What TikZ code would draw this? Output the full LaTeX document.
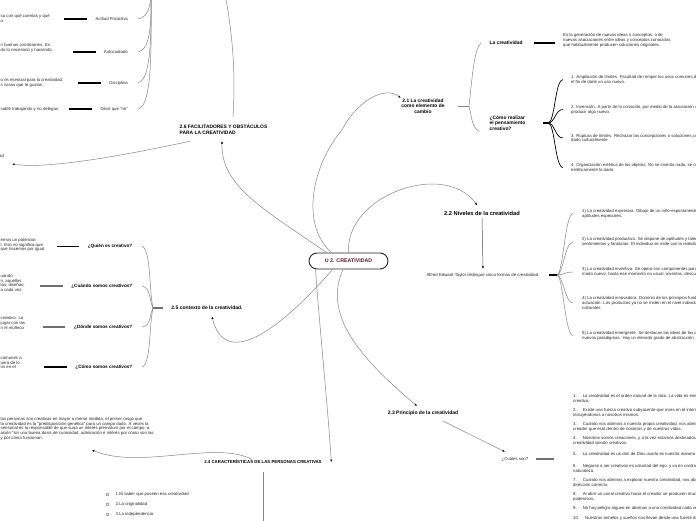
\documentclass[tikz,border=0pt]{standalone}
\usepackage{fontspec}
\setmainfont{Liberation Sans}
\usetikzlibrary{arrows.meta,positioning}

\definecolor{linkgray}{HTML}{858585}
\definecolor{stubgray}{HTML}{707070}
\definecolor{rootred}{HTML}{5E1A29}

\def\MapTitle{U 2. CREATIVIDAD}
\def\NoteFont{\fontsize{4.3}{4.8}\selectfont}
\def\TopicFont{\fontsize{4.9}{5.6}\selectfont\bfseries}

\tikzset{
  root/.style={draw=black!85, line width=0.9pt, rounded corners=8pt, fill=white,
    minimum width=79pt, minimum height=16pt, inner sep=0pt, text=rootred,
    font=\fontsize{5.3}{6}\selectfont\bfseries},
  topic/.style={inner sep=0.5pt, align=center, font=\TopicFont},
  subtopic/.style={inner sep=0.5pt, align=left, font=\TopicFont},
  note/.style={inner sep=0pt, align=left, anchor=west, text=black!85, font=\NoteFont},
  link/.style={draw=linkgray, line width=0.5pt},
  linkarrow/.style={link, -{Latex[length=2.4pt,width=2.2pt,color=black]}},
  fanline/.style={draw=black, line width=0.7pt},
  stubblack/.style={draw=black, line width=1.1pt},
  stubgray/.style={draw=stubgray, line width=1.5pt},
}

\begin{document}
\begin{tikzpicture}[x=1pt,y=-1pt]

% Page
\useasboundingbox (0,0) rectangle (696,520);
\fill[white] (0,0) rectangle (696,520);
\clip (0,0) rectangle (696,520);

% =====================================================
% CENTRAL TOPIC
% =====================================================
\node[root] (root) at (348.5,261) {\MapTitle};

% =====================================================
% 2.1 LA CREATIVIDAD COMO ELEMENTO DE CAMBIO
% =====================================================
\node[topic] (n21) at (423,106) {2.1 La creatividad\\como elemento de\\cambio};
\node[subtopic, anchor=west] (lacre) at (489,43) {La creatividad};
\node[note] (defcre) at (563,40.5) {Es la generación de nuevas ideas o conceptos, o de\\nuevas asociaciones entre ideas y conceptos conocidos,\\que habitualmente producen soluciones originales.};
\node[subtopic, anchor=west] (como) at (489,123) {¿Cómo realizar\\el pensamiento\\creativo?};

\foreach \i/\y/\txt in {
  1/79.5/{1. Ampliación de límites. Facultad de romper los usos comunes de las cosas con\\el fin de darle un uso nuevo.},
  2/109.5/{2. Invención. A partir de lo conocido, por medio de la asociación de ideas,\\producir algo nuevo.},
  3/138/{3. Ruptura de límites. Rechazar las concepciones o soluciones comunes y lo\\dado culturalmente},
  4/167.5/{4. Organización estética de los objetos. No se inventa nada, se organiza\\estéticamente lo dado.}} {
  \node[note] (paso\i) at (571,\y) {\txt};
}

\coordinate (b21) at (469,106);
\coordinate (fcomo) at (548,123);

\draw[linkarrow] ([xshift=-17pt]root.north) .. controls (300,225) and (312,165) .. (342,130)
  .. controls (354,105) and (383,84) .. (n21.north west);

% bracket
\draw[link] ([xshift=13pt]n21.east) -- (b21);
\draw[link] (b21) .. controls (472,80) and (474,48) .. ([xshift=-8pt]lacre.west);
\draw[link] (b21) .. controls (472,118) and (472,128) .. ([xshift=-10pt]como.south west);
\draw[stubblack, shorten <=11pt, shorten >=8pt] (lacre.east) -- (lacre.east -| defcre.west);

% fan of steps
\draw[stubblack, line width=1.4pt] ([xshift=17pt]como.east) -- (fcomo);
\foreach \i in {1,...,4} {
  \draw[fanline] (fcomo) .. controls +(7,0) and +(-8,0) .. ([xshift=-8pt]paso\i.west);
}

% =====================================================
% 2.2 NIVELES DE LA CREATIVIDAD
% =====================================================
\node[topic, font=\fontsize{5.7}{6.5}\selectfont\bfseries] (n22) at (482,213) {2.2 Niveles de la creatividad};
\node[note, anchor=center] (alfred) at (483,275) {Alfred Edward Taylor distingue cinco formas de creatividad.};

\foreach \i/\y/\txt in {
  1/213.5/{1) La creatividad expresiva. Dibujo de un niño-espontaneidad, no se requieren\\aptitudes especiales.},
  2/242/{2) La creatividad productiva. Se dispone de aptitudes y talentos para expresar\\sentimientos y fantasías. El individuo se mide con la realidad.},
  3/272/{3) La creatividad inventiva. Se opera con componentes para combinarlos de\\modo nuevo, hasta ese momento no usual -inventos, descubrimientos.},
  4/303/{4) La creatividad innovadora. Dominio de los principios fundamentales de\\actuación. Los productos ya no se miden en el nivel individual sino en el de los\\culturales.},
  5/335.5/{5) La creatividad emergente. Se destacan las ideas de las que surgen\\nuevos paradigmas. Hay un elevado grado de abstracción.}} {
  \node[note] (nivel\i) at (582,\y) {\txt};
}

\coordinate (falfred) at (557,275);

\draw[linkarrow] (root.north) .. controls (345,195) and (445,160) .. ([shift={(-5pt,5pt)}]n22.north);
\draw[linkarrow, draw=black!70] ([yshift=-2pt]n22.south) -- ([yshift=4pt]alfred.north);

\draw[stubblack, line width=1.3pt] ([xshift=9pt]alfred.east) -- (falfred);
\foreach \i in {1,...,5} {
  \draw[link] (falfred) .. controls +(6,0) and +(-8,0) .. ([xshift=-9pt]nivel\i.west);
}

% =====================================================
% 2.3 PRINCIPIO DE LA CREATIVIDAD
% =====================================================
\node[topic, font=\fontsize{5}{6}\selectfont\bfseries] (n23) at (423,413) {2.3 Principio de la creatividad};
\node[note, anchor=center] (cuales) at (515,459) {¿Cuáles son?};

\foreach \i/\y/\txt in {
  1/398.5/{1.\hspace{6pt}La creatividad es el orden natural de la vida. La vida es energía pura\\creativa.},
  2/412.5/{2.\hspace{6pt}Existe una fuerza creativa subyacente que mora en el interior de toda vida,\\incluyéndonos a nosotros mismos.},
  3/426.5/{3.\hspace{6pt}Cuando nos abrimos a nuestra propia creatividad, nos abrimos a la creatividad del\\creador que está dentro de nosotros y de nuestras vidas.},
  4/440.5/{4.\hspace{6pt}Nosotros somos creaciones, y a la vez estamos destinados a continuar la\\creatividad siendo creativos.},
  5/454/{5.\hspace{6pt}La creatividad es un don de Dios usarla es nuestra manera de devolverlo.},
  6/468.5/{6.\hspace{6pt}Negarse a ser creativos es voluntad del ego, y va en contra de nuestra verdadera\\naturaleza.},
  7/482.5/{7.\hspace{6pt}Cuando nos abrimos a explorar nuestra creatividad, nos abrimos a Dios: buena\\dirección correcta.},
  8/496.5/{8.\hspace{6pt}Al abrir un canal creativo hacia el creador se producen muchos cambios\\poderosos.},
  9/508/{9.\hspace{6pt}No hay peligro alguno en abrirnos a una creatividad cada vez mayor.},
  10/518.5/{10.\hspace{6pt}Nuestros anhelos y sueños nos llevan desde una fuente divina.}} {
  \node[note] (prin\i) at (573,\y) {\txt};
}

\draw[linkarrow] ([xshift=-5.5pt]root.south) .. controls (325,310) and (350,350) .. ([shift={(-6pt,4pt)}]n23.north);
\draw[linkarrow] ([shift={(20pt,-5pt)}]n23.south) -- ([shift={(-10pt,5pt)}]cuales.north);
\draw[stubgray] ([xshift=8pt]cuales.east) -- ([xshift=26pt]cuales.east);

% =====================================================
% 2.4 CARACTERISTICAS DE LAS PERSONAS CREATIVAS
% =====================================================
\node[topic, font=\fontsize{4.35}{5}\selectfont\bfseries] (n24) at (263,462) {2.4 CARACTERÍSTICAS DE LAS PERSONAS CREATIVAS};
\node[note, anchor=north west] (cara) at (0.5,417) {las personas son creativas en mayor o menor medida, el primer rasgo que\\la creatividad es la "predisposición genética" para un campo dado.  A veces la\\sensorial es la responsable de que surja un interés prematuro por el campo; a\\ación "sin una buena dosis de curiosidad, admiración e interés por cómo son las\\y por cómo funcionan.};
\coordinate (caratip) at (92,450);
\coordinate (down24) at (263,525);

\foreach \i/\y/\txt in {1/494/{1.El saber que poseen esa creatividad}, 2/504/{2.La originalidad}, 3/514/{3.La independencia}} {
  \node[note] (rasgo\i) at (115.5,\y) {\txt};
  \draw[draw=black!35, line width=0.3pt] ([shift={(-9.5pt,-1.2pt)}]rasgo\i.west) rectangle ([shift={(-7.1pt,1.2pt)}]rasgo\i.west);
}

\draw[linkarrow] ([xshift=-33pt]root.south) .. controls (319,320) and (328,410) .. ([xshift=9pt]n24.east);
\draw[linkarrow] ([xshift=-11pt]n24.north) .. controls (215,440) and (140,470) .. (caratip);
\draw[draw=linkgray, line width=1pt] ([yshift=-7pt]n24.south) -- (down24);

% =====================================================
% 2.5 CONTEXTO DE LA CREATIVIDAD
% =====================================================
\node[topic, font=\fontsize{5}{6}\selectfont\bfseries] (n25) at (207,308) {2.5 contexto de la creatividad.};
\coordinate (b25) at (153,308);

\foreach \i/\y/\txt in {1/246/{¿Quién es creativo?}, 2/286/{¿Cuándo somos creativos?}, 3/327/{¿Dónde somos creativos?}, 4/367/{¿Cómo somos creativos?}} {
  \node[subtopic, font=\fontsize{4.65}{5.5}\selectfont\bfseries, anchor=east] (preg\i) at (133,\y) {\txt};
}

\node[note] (ctx1) at (0.5,245) {emos un potencial\\l. Eso no significa que\\que hacemos por igual.};
\node[note] (ctx2) at (0.5,283) {uando\\n, aquellas\\las; diseñas;\\a cada vez};
\node[note] (ctx3) at (0.5,323) {creativo. La\\jugar con las\\n el muñeco};
\node[note] (ctx4) at (0.5,363) {comunes a\\uera de lo\\os en el};

\draw[linkarrow] ([xshift=-16pt]root.south) .. controls (280,330) and (225,370) .. ([shift={(5pt,-6pt)}]n25.south);

\draw[stubgray] ([xshift=-8pt]n25.west) -- (b25);
\draw[link] (b25) .. controls (149,290) and (151,250) .. ([xshift=9pt]preg1.east);
\draw[link] (b25) .. controls (149,300) and (151,288) .. ([xshift=9pt]preg2.east);
\draw[link] (b25) .. controls (149,316) and (151,326) .. ([xshift=9pt]preg3.east);
\draw[link] (b25) .. controls (149,326) and (151,364) .. ([xshift=9pt]preg4.east);

\draw[stubblack, line width=0.8pt] ([xshift=-8pt]preg1.west) -- ([xshift=-30pt]preg1.west);
\draw[stubgray] ([xshift=-8pt]preg2.west) -- ([xshift=-31pt]preg2.west);
\draw[stubgray] ([xshift=-8pt]preg3.west) -- ([xshift=-30pt]preg3.west);
\draw[stubblack] ([xshift=-8pt]preg4.west) -- ([xshift=-31pt]preg4.west);

% =====================================================
% 2.6 FACILITADORES Y OBSTACULOS
% =====================================================
\node[subtopic, anchor=west] (n26) at (179,129.5) {2.6 FACILITADORES Y OBSTÁCULOS\\PARA LA CREATIVIDAD};
\node[note] (adtxt) at (-1,156) {ad};
\coordinate (up26) at (224,-12);
\coordinate (top26) at (151,-12);

\foreach \nm/\y/\txt in {act/19/{Actitud Proactiva}, auto/52/{Autocuidado}, disc/83/{Disciplina}, decir/109/{Decir que "no"}} {
  \node[note, anchor=east] (\nm) at (128,\y) {\txt};
  \draw[stubblack] ([xshift=-8pt]\nm.west) -- ([xshift=-31pt]\nm.west);
}

\node[note] (ta) at (0.5,18.5) {sa con qué cuentas y qué\\o.};
\node[note] (tb) at (0.5,48) {n buenas condiciones. Es\\do lo necesario y haciendo};
\node[note] (tc) at (0.5,82.5) {o es esencial para la creatividad.\\s cosas que te gustan.};
\node[note] (td) at (0.5,109) {sable trabajando y no delegas.};

\draw[linkarrow] ([xshift=-22pt]root.north) .. controls (262,208) and (221,186) .. ([shift={(43pt,-6pt)}]n26.south west);
\draw[link] ([shift={(54pt,7pt)}]n26.north west) .. controls (236,70) and (232,30) .. (up26);
\draw[linkarrow] ([shift={(11pt,-6pt)}]n26.south west) .. controls (140,152) and (50,170) .. ([shift={(13pt,-8pt)}]adtxt.west);

\draw[link] (top26) .. controls (151,5) and (149,17) .. ([xshift=10pt]act.east);
\draw[link] (top26) .. controls (152,30) and (149,50) .. ([xshift=10pt]auto.east);
\draw[link] (top26) .. controls (152,50) and (149,80) .. ([xshift=10pt]disc.east);
\draw[link] (top26) .. controls (152,70) and (150,106) .. ([xshift=10pt]decir.east);

\end{tikzpicture}
\end{document}
